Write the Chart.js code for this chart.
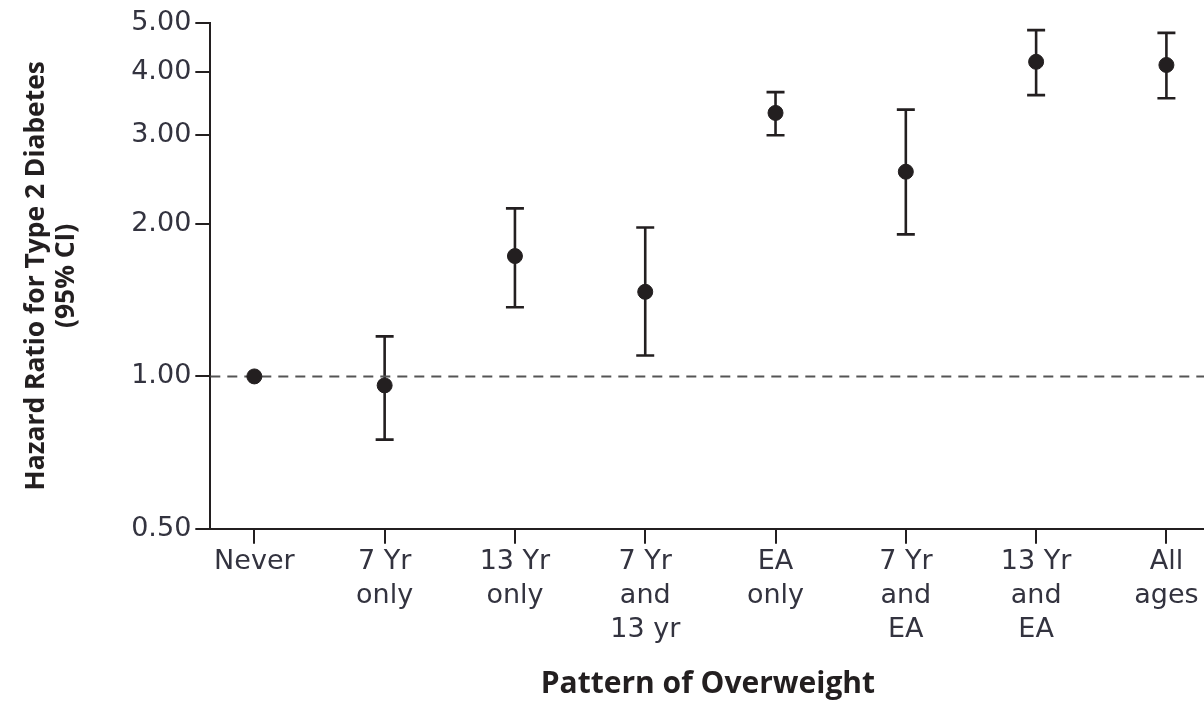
<!DOCTYPE html>
<html>
<head>
<meta charset="utf-8">
<script src="https://cdn.jsdelivr.net/npm/chart.js@4.4.0/dist/chart.umd.min.js"></script>
<style>
  html, body { margin: 0; padding: 0; background: #ffffff; overflow: hidden; }
  #wrap { width: 1214px; height: 701px; position: relative; }
</style>
</head>
<body>
<div id="wrap"><canvas id="myChart_hr"></canvas></div>
<script>
  "use strict";

  // categories (pattern of overweight)
  const patternLabels = [
    ['Never'],
    ['7 Yr', 'only'],
    ['13 Yr', 'only'],
    ['7 Yr', 'and', '13 yr'],
    ['EA', 'only'],
    ['7 Yr', 'and', 'EA'],
    ['13 Yr', 'and', 'EA'],
    ['All', 'ages']
  ];

  // hazard ratios and 95% CI
  const hazardRatio = [1.00, 0.96, 1.73, 1.47, 3.32, 2.54, 4.19, 4.13];
  const ciLower = [null, 0.75, 1.37, 1.10, 3.00, 1.91, 3.60, 3.55];
  const ciUpper = [null, 1.20, 2.15, 1.97, 3.65, 3.37, 4.84, 4.78];

  // y axis tick values
  const yTicks = [0.50, 1.00, 2.00, 3.00, 4.00, 5.00];

  const ink = '#231f20';
  const X_MIN = -0.338, X_MAX = 7.30;

  // error bars drawn through the scales
  const errorBars = {
    id: 'errorBars',
    beforeDatasetsDraw(chart) {
      const ctx = chart.ctx;
      const xs = chart.scales.x, ys = chart.scales.y;
      ctx.save();
      ctx.strokeStyle = ink;
      ctx.lineWidth = 2.6;
      for (let i = 0; i < hazardRatio.length; i++) {
        if (ciLower[i] == null) continue;
        const x = xs.getPixelForValue(i);
        const yl = ys.getPixelForValue(ciLower[i]);
        const yh = ys.getPixelForValue(ciUpper[i]);
        ctx.beginPath();
        ctx.moveTo(x, yl); ctx.lineTo(x, yh);
        ctx.moveTo(x - 9, yl); ctx.lineTo(x + 9, yl);
        ctx.moveTo(x - 9, yh); ctx.lineTo(x + 9, yh);
        ctx.stroke();
      }
      ctx.restore();
    }
  };

  const data_hr = {
    datasets: [
      {
        label: 'Reference',
        data: [{ x: X_MIN, y: 1 }, { x: X_MAX, y: 1 }],
        borderColor: '#555555',
        borderWidth: 2,
        borderDash: [10, 7],
        pointRadius: 0,
        showLine: true,
        order: 2
      },
      {
        label: 'Hazard ratio',
        data: hazardRatio.map((v, i) => ({ x: i, y: v })),
        backgroundColor: ink,
        borderColor: ink,
        pointRadius: 7.5,
        showLine: false,
        order: 1
      }
    ]
  };

  const config_hr = {
    type: 'scatter',
    data: data_hr,
    plugins: [errorBars],
    options: {
      responsive: true,
      maintainAspectRatio: false,
      animation: false,
      layout: { padding: { top: 23, left: 0, right: 0, bottom: 0 } },
      plugins: {
        legend: { display: false },
        tooltip: { enabled: false }
      },
      scales: {
        x: {
          type: 'linear',
          min: X_MIN,
          max: X_MAX,
          afterBuildTicks: (axis) => {
            axis.ticks = patternLabels.map((l, i) => ({ value: i }));
          },
          grid: { display: true, drawOnChartArea: false, drawTicks: true, tickLength: 15, color: ink, lineWidth: 2 },
          border: { display: true, color: ink, width: 2 },
          ticks: {
            autoSkip: false,
            maxRotation: 0,
            padding: 1,
            color: '#33333f',
            font: { family: 'DejaVu Sans', size: 27, lineHeight: 1.26 },
            callback: (value) => patternLabels[Math.round(value)]
          },
          title: {
            display: true,
            text: 'Pattern of Overweight',
            color: ink,
            font: { family: 'Open Sans', size: 30, weight: 'bold', lineHeight: 1.11 },
            padding: { top: 20, bottom: 0 }
          }
        },
        y: {
          type: 'logarithmic',
          min: 0.5,
          max: 5,
          afterBuildTicks: (axis) => {
            axis.ticks = yTicks.map(v => ({ value: v }));
          },
          grid: { display: true, drawOnChartArea: false, drawTicks: true, tickLength: 15, color: ink, lineWidth: 2 },
          border: { display: true, color: ink, width: 2 },
          ticks: {
            padding: 4,
            color: '#33333f',
            font: { family: 'DejaVu Sans', size: 27 },
            callback: (value) => Number(value).toFixed(2)
          },
          title: {
            display: true,
            text: ['Hazard Ratio for Type 2 Diabetes', '(95% CI)'],
            color: ink,
            font: { family: 'Open Sans', size: 26.4, weight: 'bold', lineHeight: 1.14 },
            padding: { top: 21, bottom: 46 }
          }
        }
      }
    }
  };

  const ctx_hr = document.getElementById('myChart_hr');
  const myChart_hr = new Chart(ctx_hr, config_hr);
</script>
</body>
</html>
